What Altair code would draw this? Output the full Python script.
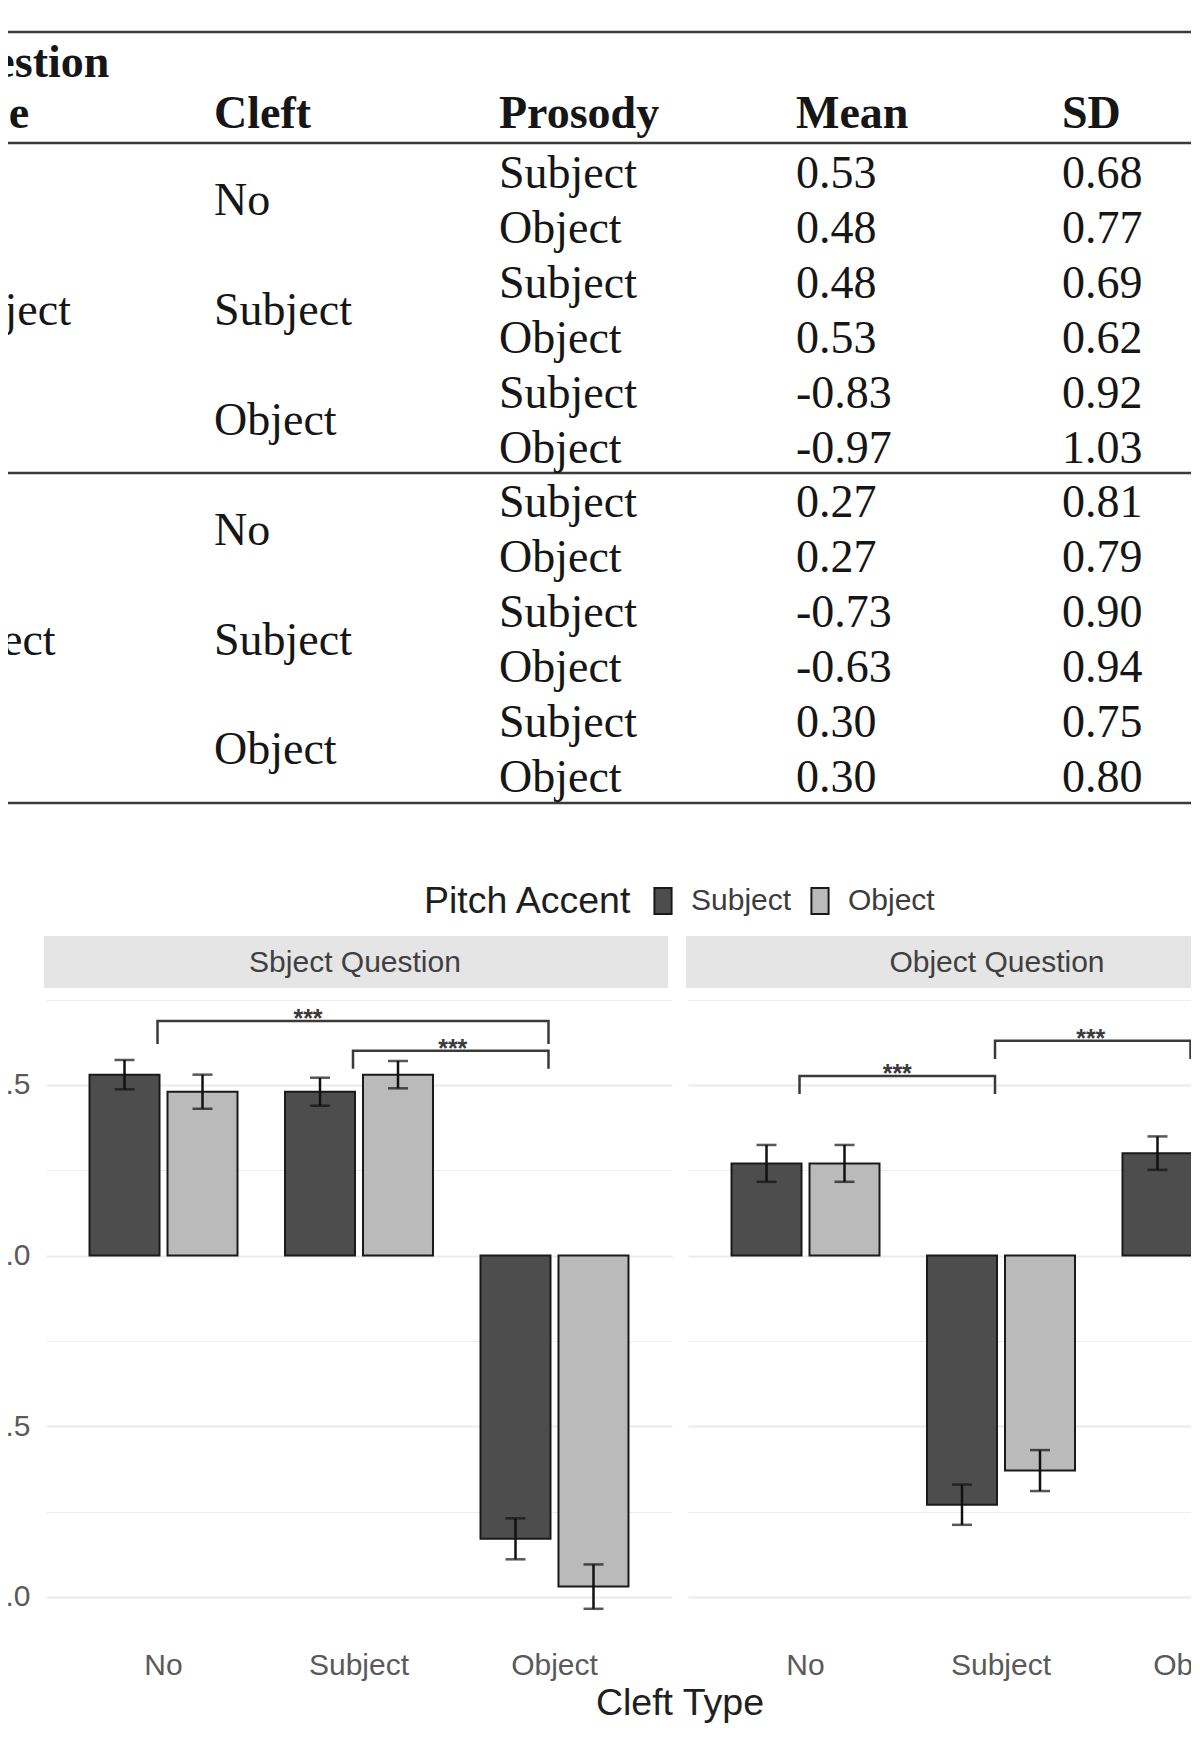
import altair as alt
import pandas as pd

# ---------------- data ----------------
question_types = ["Subject", "Object"]
cleft_types = ["No", "Subject", "Object"]
prosody_levels = ["Subject", "Object"]
strip_labels = ["Sbject Question", "Object Question"]

subj_q_means = [0.53, 0.48, 0.48, 0.53, -0.83, -0.97]
subj_q_sds = [0.68, 0.77, 0.69, 0.62, 0.92, 1.03]
obj_q_means = [0.27, 0.27, -0.73, -0.63, 0.30, 0.30]
obj_q_sds = [0.81, 0.79, 0.90, 0.94, 0.75, 0.80]

# half-lengths of the error bars
subj_q_se = [0.043, 0.050, 0.041, 0.040, 0.060, 0.065]
obj_q_se = [0.054, 0.054, 0.059, 0.060, 0.049, 0.052]

# significance brackets: (from, to, top of bracket, end of legs)
subj_q_brackets = [("No", "Object", 0.687, 0.620), ("Subject", "Object", 0.600, 0.547)]
obj_q_brackets = [("No", "Subject", 0.526, 0.473), ("Subject", "Object", 0.629, 0.576)]
sig_label = "***"

table_headers = ["Question", "Type", "Cleft", "Prosody", "Mean", "SD"]
legend_title = "Pitch Accent"
x_title = "Cleft Type"

# ---------------- style / layout ----------------
SERIF = "Liberation Serif"
SANS = "Liberation Sans"
INK = "#161616"
RULE = "#3a3a3a"
AXIS_TXT = "#5a5a5a"

PW, PH = 626, 656
STEP = 195.5
P_IN, P_OUT = 0.243, 0.2226
BANDW = STEP * (1 - P_IN)
Y_DOM = [-1.144, 0.778]
BRACKET_X = BANDW / 2 - 6  # bracket legs sit slightly left of the group centres
# star offsets from the bracket's first category (px)
subj_star_dx = [144.5, STEP / 2 - 4]
obj_star_dx = [STEP / 2 - 6, STEP / 2 - 8]

# ---------------- table ----------------
rows = []
for qi, q in enumerate(question_types):
    means = subj_q_means if qi == 0 else obj_q_means
    sds = subj_q_sds if qi == 0 else obj_q_sds
    for ci, c in enumerate(cleft_types):
        for pi, p in enumerate(prosody_levels):
            k = ci * 2 + pi
            rows.append(dict(row=qi * 6 + k, qtype=q, cleft=c, prosody=p,
                             mean=f"{means[k]:.2f}", sd=f"{sds[k]:.2f}"))
tdf = pd.DataFrame(rows)

ROW0, ROWSTEP, TH = 165.0, 54.9, 820
T_D0 = -ROW0 / ROWSTEP
T_D1 = T_D0 + TH / ROWSTEP
tscale = alt.Scale(domain=[T_D0, T_D1], reverse=True, nice=False, zero=False)

tbase = alt.Chart(tdf)


def cell(chart, field, x, yfield="row"):
    return chart.mark_text(align="left", baseline="middle", font=SERIF, fontSize=46,
                           color=INK).encode(
        x=alt.value(x), y=alt.Y(f"{yfield}:Q", scale=tscale, axis=None),
        text=f"{field}:N")


one = pd.DataFrame({"k": [0]})
table_layers = []
for ry in [23, 134, 464, 794]:
    table_layers.append(alt.Chart(one).mark_rule(color=RULE, strokeWidth=2.5).encode(
        x=alt.value(-140), x2=alt.value(1250), y=alt.value(ry)))

colx = [-113, 168, 453, 750, 1016]
head_pos = [(colx[0], 54), (colx[0], 105), (colx[1], 105), (colx[2], 105),
            (colx[3], 105), (colx[4], 105)]
for h, (hxv, hyv) in zip(table_headers, head_pos):
    table_layers.append(alt.Chart(one).mark_text(
        align="left", baseline="middle", font=SERIF, fontSize=46, fontWeight="bold",
        color=INK).encode(x=alt.value(hxv), y=alt.value(hyv), text=alt.value(h)))

table_layers.append(cell(tbase.transform_aggregate(rc="mean(row)", groupby=["qtype"]),
                         "qtype", colx[0], "rc"))
table_layers.append(cell(tbase.transform_aggregate(rc="mean(row)", groupby=["qtype", "cleft"]),
                         "cleft", colx[1], "rc"))
table_layers.append(cell(tbase, "prosody", colx[2]))
table_layers.append(cell(tbase, "mean", colx[3]))
table_layers.append(cell(tbase, "sd", colx[4]))

table = alt.layer(*table_layers).properties(width=1268, height=TH)


# ---------------- bar panels ----------------
def panel(label, means, ses, brackets, star_dx, first):
    bdf = pd.DataFrame({
        "cleft": [c for c in cleft_types for _ in prosody_levels],
        "accent": prosody_levels * len(cleft_types),
        "mean": means, "se": ses})
    base = alt.Chart(bdf)
    xenc = alt.X("cleft:N", sort=cleft_types,
                 scale=alt.Scale(domain=cleft_types, paddingInner=P_IN, paddingOuter=P_OUT),
                 axis=alt.Axis(title=None, labelAngle=0, ticks=False, tickSize=0, domain=False,
                               labelFontSize=30, labelFont=SANS, labelColor=AXIS_TXT,
                               labelPadding=4, grid=False))
    xo = alt.XOffset("accent:N", sort=prosody_levels,
                     scale=alt.Scale(domain=prosody_levels, paddingInner=0.1026, paddingOuter=0))
    ysc = alt.Scale(domain=Y_DOM, nice=False, zero=False)
    ymajor = alt.Axis(title=None, values=[-1, -0.5, 0, 0.5], format=".1f", labels=first,
                      ticks=False, tickSize=0, domain=False, labelFontSize=30, labelFont=SANS,
                      labelColor=AXIS_TXT, labelPadding=16, grid=True, gridColor="#ebebeb",
                      gridWidth=2.2, orient="left")
    yminor = alt.Axis(title=None, values=[-0.75, -0.25, 0.25, 0.75], labels=False,
                      ticks=False, tickSize=0, domain=False, grid=True, gridColor="#ededed",
                      gridWidth=1.2, orient="left")
    if first:
        leg = alt.Legend(orient="none", legendX=378, legendY=-104, direction="horizontal",
                         title=legend_title, titleOrient="left", titleAnchor="middle",
                         titleBaseline="middle", titleFontSize=37.5, titleFont=SANS,
                         titleFontWeight="normal", titleColor="#1e1e1e", titlePadding=15,
                         titleLimit=600,
                         labelFontSize=30, labelFont=SANS, labelColor="#3c3c3c",
                         labelOffset=13, columnPadding=13, labelLimit=300,
                         symbolType="M-0.66,-1H0.66V1H-0.66Z", symbolSize=676,
                         symbolStrokeColor="#1a1a1a", symbolStrokeWidth=2)
    else:
        leg = None
    color = alt.Color("accent:N", sort=prosody_levels,
                      scale=alt.Scale(domain=prosody_levels, range=["#4d4d4d", "#bababa"]),
                      legend=leg)

    sdf = pd.DataFrame({"q": [label]})
    strip = alt.Chart(sdf).mark_rect(color="#e5e5e5").encode(
        x=alt.value(-2), x2=alt.value(PW - 4), y=alt.value(-54), y2=alt.value(-2))
    strip_t = alt.Chart(sdf).mark_text(font=SANS, fontSize=30, color="#404040",
                                       align="center", baseline="middle").encode(
        x=alt.value(309), y=alt.value(-27), text="q:N")

    bars = base.mark_bar(stroke="#1a1a1a", strokeWidth=2).encode(
        x=xenc, xOffset=xo, y=alt.Y("mean:Q", scale=ysc, axis=ymajor, stack=None),
        color=color)
    err = base.transform_calculate(lo="datum.mean - datum.se", hi="datum.mean + datum.se") \
        .mark_rule(color="#111111", strokeWidth=2.5).encode(
        x=xenc, xOffset=xo, y=alt.Y("lo:Q", scale=ysc, axis=yminor), y2="hi:Q")
    caps = base.transform_calculate(lo="datum.mean - datum.se", hi="datum.mean + datum.se") \
        .transform_fold(["lo", "hi"], as_=["end", "yv"]) \
        .mark_tick(color="#111111", size=20, thickness=2.5).encode(
        x=xenc, xOffset=xo, y=alt.Y("yv:Q", scale=ysc, axis=None))

    pts = []
    for bi, (a, b, top, legy) in enumerate(brackets):
        pts += [dict(bid=bi, ord=0, cleft=a, yv=legy), dict(bid=bi, ord=1, cleft=a, yv=top),
                dict(bid=bi, ord=2, cleft=b, yv=top), dict(bid=bi, ord=3, cleft=b, yv=legy)]
    brk = alt.Chart(pd.DataFrame(pts)).mark_line(color="#3a3a3a", strokeWidth=2.5).encode(
        x=xenc, xOffset=alt.value(BRACKET_X),
        y=alt.Y("yv:Q", scale=ysc, axis=None), detail="bid:N", order="ord:Q")

    layers = [strip, strip_t, bars, err, caps, brk]
    for bi, (a, b, top, legy) in enumerate(brackets):
        st = pd.DataFrame({"cleft": [a], "yv": [top], "s": [sig_label]})
        layers.append(alt.Chart(st).mark_text(font=SANS, fontSize=25, fontWeight="bold",
                                              color="#3a3a3a",
                                              align="center", baseline="alphabetic",
                                              dx=star_dx[bi], dy=6).encode(
            x=xenc, y=alt.Y("yv:Q", scale=ysc, axis=None), text="s:N"))
    if first:
        tdf2 = pd.DataFrame({"t": [x_title]})
        layers.append(alt.Chart(tdf2).mark_text(font=SANS, fontSize=37.5, color="#202020",
                                                align="center", baseline="middle").encode(
            x=alt.value(634), y=alt.value(714), text="t:N"))
    return alt.layer(*layers).properties(width=PW, height=PH).resolve_axis(y="independent")


p1 = panel(strip_labels[0], subj_q_means, subj_q_se, subj_q_brackets, subj_star_dx, True)
p2 = panel(strip_labels[1], obj_q_means, obj_q_se, obj_q_brackets, obj_star_dx, False)

bar_row = alt.hconcat(p1, p2, spacing=16, bounds="flush").resolve_scale(color="independent")

chart = alt.vconcat(table, bar_row, spacing=161, bounds="flush").properties(
    padding={"left": -104, "right": -124, "top": 0, "bottom": 0},
    background="white",
).configure_view(stroke="transparent")

chart.save("out.html", embed_options={"renderer": "svg", "actions": False})
